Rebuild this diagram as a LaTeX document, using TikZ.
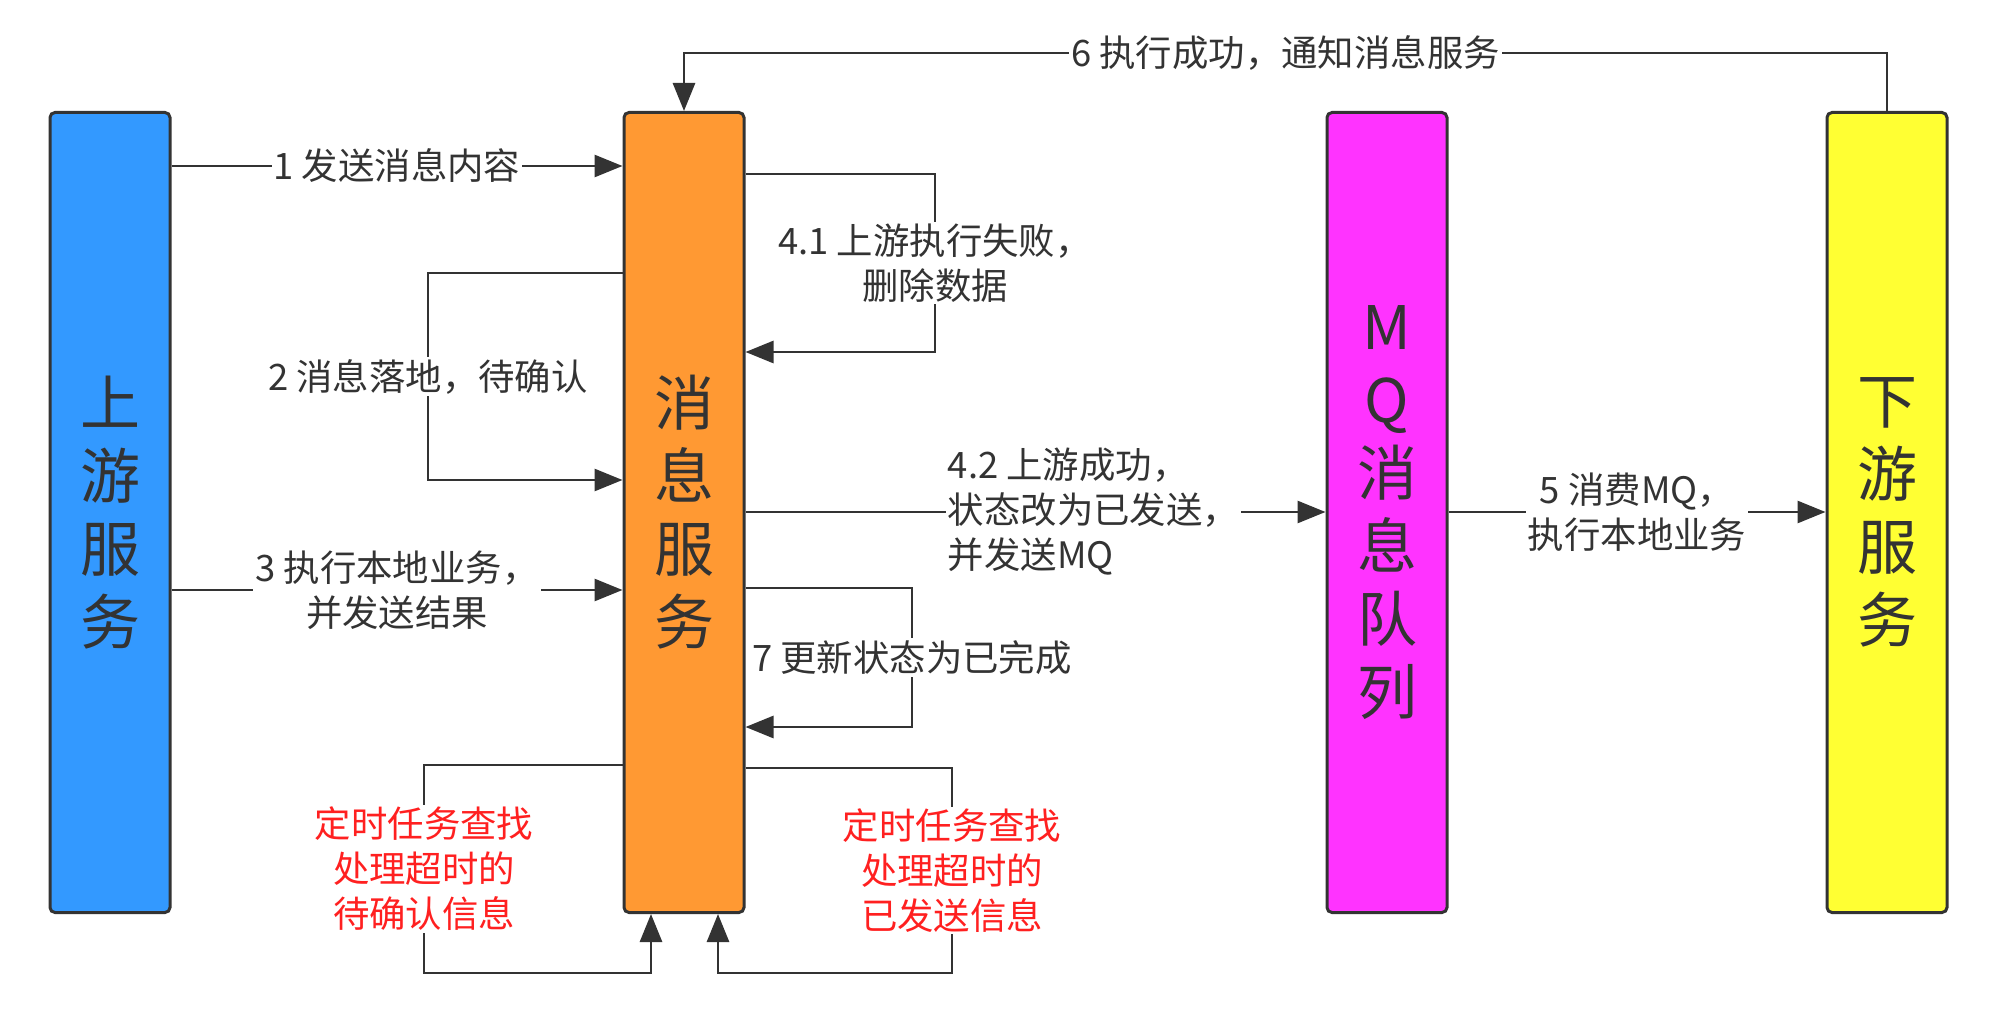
\documentclass[tikz,border=0pt]{standalone}
\usepackage{fontspec}
\setmainfont{Noto Sans CJK SC}
\usetikzlibrary{arrows.meta, positioning, calc}
\definecolor{linegray}{HTML}{333333}
\definecolor{upblue}{HTML}{3399FF}
\definecolor{msgorange}{HTML}{FF9933}
\definecolor{mqpink}{HTML}{FF33FF}
\definecolor{downyellow}{HTML}{FFFF33}
\definecolor{alertred}{HTML}{FF2020}

\begin{document}
\begin{tikzpicture}[
        x=0.5pt, y=-0.5pt,
        service/.style={rectangle, draw=linegray, line width=1.5pt, rounded corners=2.5pt, minimum width=60pt, minimum height=400pt, align=center, text=linegray, font=\fontsize{30}{36.5}\selectfont},
        lbl/.style={fill=white, inner sep=1pt, align=center, text=linegray, font=\fontsize{18.2}{22.5}\selectfont},
        timer/.style={lbl, text=alertred},
        arrow/.style={-{Triangle[length=14pt, width=11pt]}, draw=linegray, line width=1.4pt},
        plain/.style={draw=linegray, line width=1.4pt}
    ]
        \useasboundingbox (0,0) rectangle (1994,1022);

        \node[service, fill=upblue] (upstream) at (110,512.5) {上\\游\\服\\务};
        \node[service, fill=msgorange] (msgsvc) at (684,512.5) {消\\息\\服\\务};
        \node[service, fill=mqpink] (mq) at (1387,512.5) {M\\Q\\消\\息\\队\\列};
        \node[service, fill=downyellow] (downstream) at (1887,512.5) {下\\游\\服\\务};

        % upstream <-> message service
        \draw[arrow] (upstream.east |- 0,166) -- node[lbl] {1 发送消息内容} (msgsvc.west |- 0,166);
        \draw[arrow] (msgsvc.west |- 0,273) -- (428,273) -- node[lbl] {2 消息落地，待确认} (428,480) -- (msgsvc.west |- 0,480);
        \draw[arrow] (upstream.east |- 0,590) -- node[lbl] {3 执行本地业务，\\并发送结果} (msgsvc.west |- 0,590);

        % message service self loops
        \draw[arrow] (msgsvc.east |- 0,174) -- (935,174) -- node[lbl] {4.1 上游执行失败，\\删除数据} (935,352) -- (msgsvc.east |- 0,352);
        \draw[arrow] (msgsvc.east |- 0,588) -- (912,588) -- node[lbl] {7 更新状态为已完成} (912,727) -- (msgsvc.east |- 0,727);

        % to MQ and downstream
        \draw[arrow] (msgsvc.east |- 0,512) -- node[lbl, align=left, pos=0.6] {4.2 上游成功，\\状态改为已发送，\\并发送MQ} (mq.west |- 0,512);
        \draw[arrow] (mq.east |- 0,512) -- node[lbl] {5 消费MQ，\\执行本地业务} (downstream.west |- 0,512);
        \draw[arrow] (downstream.north) -- (1887,53) -- node[lbl] {6 执行成功，通知消息服务} (684,53) -- (msgsvc.north);

        % timed jobs
        \draw[arrow] (msgsvc.west |- 0,765) -- (424,765) -- node[timer] {定时任务查找\\处理超时的\\待确认信息} (424,973) -- (651,973) -- (msgsvc.south -| 651,0);
        \draw[arrow] (msgsvc.east |- 0,768) -- (952,768) -- node[timer] {定时任务查找\\处理超时的\\已发送信息} (952,973) -- (718,973) -- (msgsvc.south -| 718,0);
    \end{tikzpicture}
\end{document}
